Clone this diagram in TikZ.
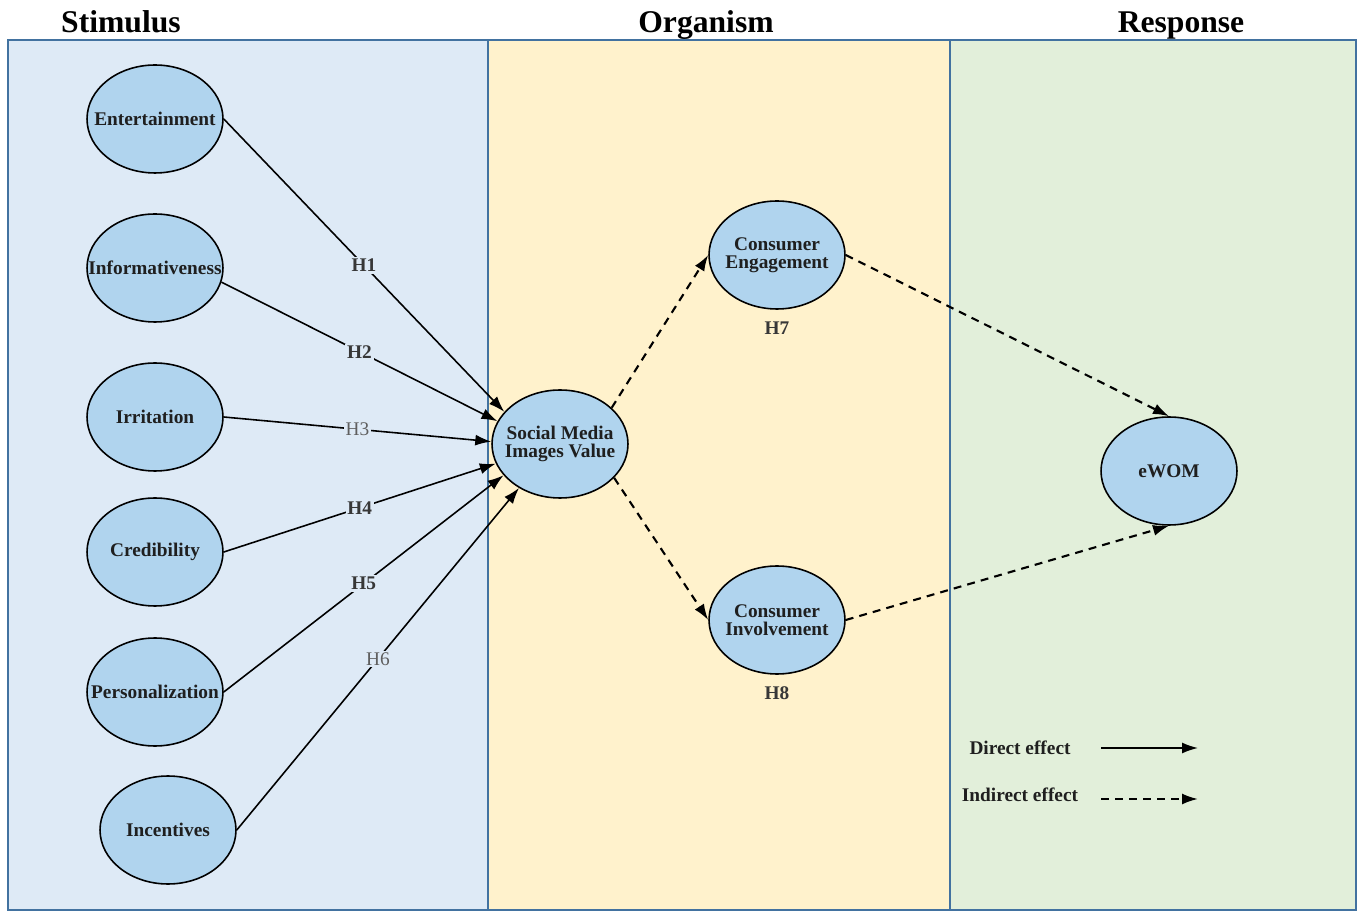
\documentclass[tikz,border=0pt]{standalone}
\usepackage{fontspec}
\setmainfont{Liberation Serif}
\usetikzlibrary{shapes.geometric,arrows.meta,positioning}
\definecolor{stimbg}{RGB}{222,234,246}
\definecolor{orgbg}{RGB}{255,242,204}
\definecolor{respbg}{RGB}{226,239,218}
\definecolor{panelline}{RGB}{66,114,160}
\definecolor{nodefill}{RGB}{176,212,238}
\definecolor{hypgray}{RGB}{55,55,55}
\definecolor{hyplight}{RGB}{95,95,95}
\tikzset{
  construct/.style={ellipse, draw=black, line width=0.9pt, fill=nodefill,
    minimum width=2.72cm, minimum height=2.16cm, inner sep=0pt,
    label={[align=center, font=\bfseries\fontsize{11}{10}\selectfont, text=black!88]center:#1}},
  direct/.style={line width=0.9pt, -{Latex[length=3.2mm,width=2.2mm]}},
  indirect/.style={line width=1.2pt, dash pattern=on 4.5pt off 3.5pt, -{Latex[length=3.2mm,width=2.2mm]}},
  hyp/.style={font=\bfseries\fontsize{11}{11}\selectfont, text=hypgray, fill=stimbg, inner sep=1pt},
  hyplite/.style={hyp, font=\fontsize{11}{11}\selectfont, text=hyplight},
  panel/.style={draw=panelline, line width=1.1pt},
  heading/.style={font=\bfseries\fontsize{18}{18}\selectfont, anchor=base},
  legendtxt/.style={font=\bfseries\fontsize{11}{11}\selectfont, text=black!88}
}
\begin{document}
\begin{tikzpicture}[x=0.02cm,y=-0.02cm]
    \useasboundingbox (0,0) rectangle (1362,911);
    % panels
    \fill[stimbg] (8,40) rectangle (488,910);
    \fill[orgbg] (488,40) rectangle (950,910);
    \fill[respbg] (950,40) rectangle (1356,910);
    \draw[panel] (8,40) rectangle (1356,910);
    \draw[panel] (488,40) -- (488,910);
    \draw[panel] (950,40) -- (950,910);
    \node[heading] (stim) at (121,33) {Stimulus};
    \node[heading] (org) at (706,33) {Organism};
    \node[heading] (resp) at (1181,33) {Response};

    % constructs
    \node[construct={Entertainment}] (ent) at (155,119) {};
    \node[construct={Informativeness}] (inf) at (155,268) {};
    \node[construct={Irritation}] (irr) at (155,417) {};
    \node[construct={Credibility}] (cred) at (155,552) {};
    \node[construct={Personalization}] (pers) at (155,692) {};
    \node[construct={Incentives}] (inc) at (168,830) {};
    \node[construct={Social Media\\Images Value}] (smiv) at (560,444) {};
    \node[construct={Consumer\\Engagement}] (ce) at (777,255) {};
    \node[construct={Consumer\\Involvement}] (ci) at (777,620) {};
    \node[construct={eWOM}] (ewom) at (1169,471) {};

    \draw[direct] (ent.east) -- node[hyp] (h1) {H1} (smiv.150);
    \draw[direct] (inf.-12) -- node[hyp] (h2) {H2} (smiv.160);
    \draw[direct] (irr.east) -- node[hyplite] (h3) {H3} (smiv.178);
    \draw[direct] (cred.east) -- node[hyp] (h4) {H4} (smiv.197);
    \draw[direct] (pers.east) -- node[hyp] (h5) {H5} (smiv.209);
    \draw[direct] (inc.east) -- node[hyplite] (h6) {H6} (smiv.227);

    \draw[indirect] (smiv.35) -- (ce.west);
    \draw[indirect] (smiv.-32) -- (ci.west);
    \draw[indirect] (ce.east) -- (ewom.north);
    \draw[indirect] (ci.east) -- (ewom.south);
    \node[hyp, fill=none, below=2mm of ce] (h7) {H7};
    \node[hyp, fill=none, below=2mm of ci] (h8) {H8};

    % legend
    \node[legendtxt] (dirtxt) at (1020,748) {Direct effect};
    \node[legendtxt] (indtxt) at (1020,795) {Indirect effect};
    \coordinate (dira) at (1101,748);
    \coordinate (dirb) at (1198,748);
    \coordinate (inda) at (1101,799);
    \coordinate (indb) at (1198,799);
    \draw[direct] (dira) -- (dirb);
    \draw[indirect] (inda) -- (indb);
\end{tikzpicture}
\end{document}
